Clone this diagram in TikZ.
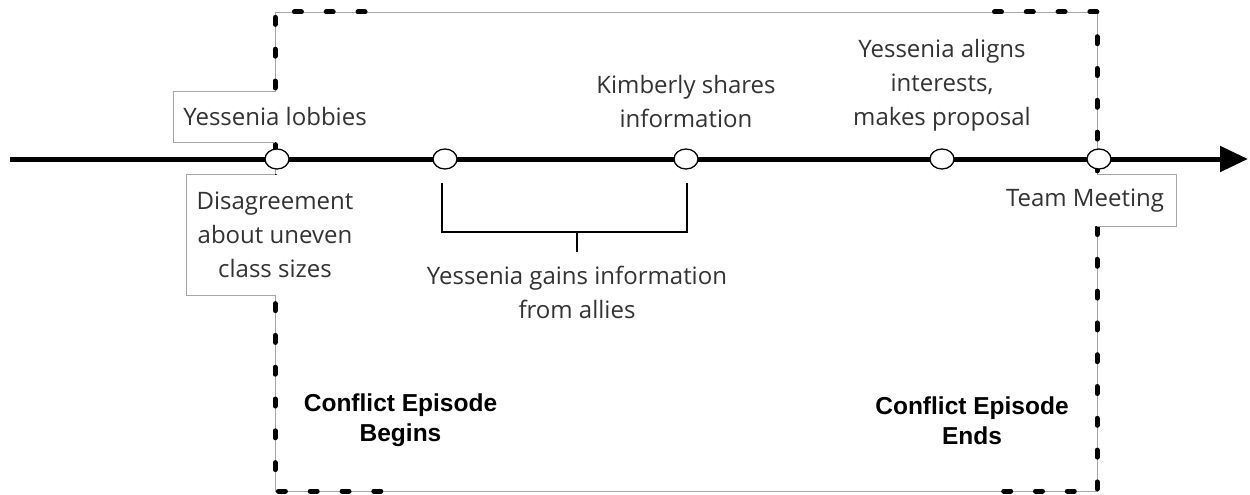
\documentclass[tikz,border=0pt]{standalone}
\usepackage{fontspec}
\setmainfont{Open Sans}
\newfontfamily\titlefont{Liberation Sans}
\usetikzlibrary{arrows.meta,shapes.geometric}

\tikzset{
    outline/.style={draw=black!35, line width=0.8pt},
    episode/.style={line width=5pt, line cap=round, dash pattern=on 7pt off 24.8pt},
    event/.style={ellipse, draw, line width=1.3pt, fill=white, minimum width=24pt, minimum height=20pt, inner sep=0pt},
    note/.style={align=center, text=black!80, font=\fontsize{24}{34}\selectfont},
    tag/.style={note, fill=white, inner xsep=10pt, inner ysep=0pt},
    heading/.style={align=center, font=\titlefont\bfseries\fontsize{24.5}{30}\selectfont},
    bracket/.style={line width=2.5pt},
}

\begin{document}
\begin{tikzpicture}[x=1pt, y=-1pt]
        \useasboundingbox (0,0) rectangle (1250,495);
        
        % moldura do episodio
        \coordinate (tl) at (275,12);
        \coordinate (br) at (1097,491);
        \draw[outline] (tl) rectangle (br);
        \draw[episode] (365,12) -- (tl) |- (381,491);
        \draw[episode] (994.5,12) -| (br) -- (1002,491);
        
        % rotulos sobre a moldura
        \node[tag, minimum height=50pt] (lobbies) at (275,116.7) {Yessenia lobbies};
        \draw[outline] (lobbies.north -| tl) -| (lobbies.south west) -- (lobbies.south -| tl);
        \node[tag, minimum height=120pt, inner xsep=10.5pt] (disagree) at (275,235) {Disagreement\\about uneven\\class sizes};
        \draw[outline] (disagree.north -| tl) -| (disagree.south west) -- (disagree.south -| tl);
        \node[tag, minimum height=51pt, inner xsep=12pt] (meeting) at (1085,200.5) {Team Meeting};
        \draw[outline] (meeting.north -| br) -| (meeting.south east) -- (meeting.south -| br);
        
        % linha do tempo
        \coordinate (start) at (10,159);
        \coordinate (end) at (1248,159);
        \draw[line width=5pt, -{Triangle[length=28pt, width=25pt]}] (start) -- (end);
        \node[event] (e1) at (277,159) {};
        \node[event] (e2) at (445,159) {};
        \node[event] (e3) at (686,159) {};
        \node[event] (e4) at (942,159) {};
        \node[event] (e5) at (1099,159) {};
        
        % eventos
        \node[note] (shares) at (686,101.2) {Kimberly shares\\information};
        \node[note] (aligns) at (942,84.8) {Yessenia aligns\\interests,\\makes proposal};
        \node[note] (gains) at (577,292.9) {Yessenia gains information\\from allies};
        
        % chave
        \coordinate (mid) at (577,232);
        \coordinate (tick) at (577,252);
        \draw[bracket] ([xshift=-3pt, yshift=-13pt]e2.south) |- (mid) -| ([xshift=1pt, yshift=-13pt]e3.south);
        \draw[bracket] (mid) -- (tick);
        
        \node[heading] (begins) at (400.5,420.3) {Conflict Episode\\Begins};
        \node[heading] (ends) at (972,420.3) {Conflict Episode\\Ends};
        
\end{tikzpicture}
\end{document}
